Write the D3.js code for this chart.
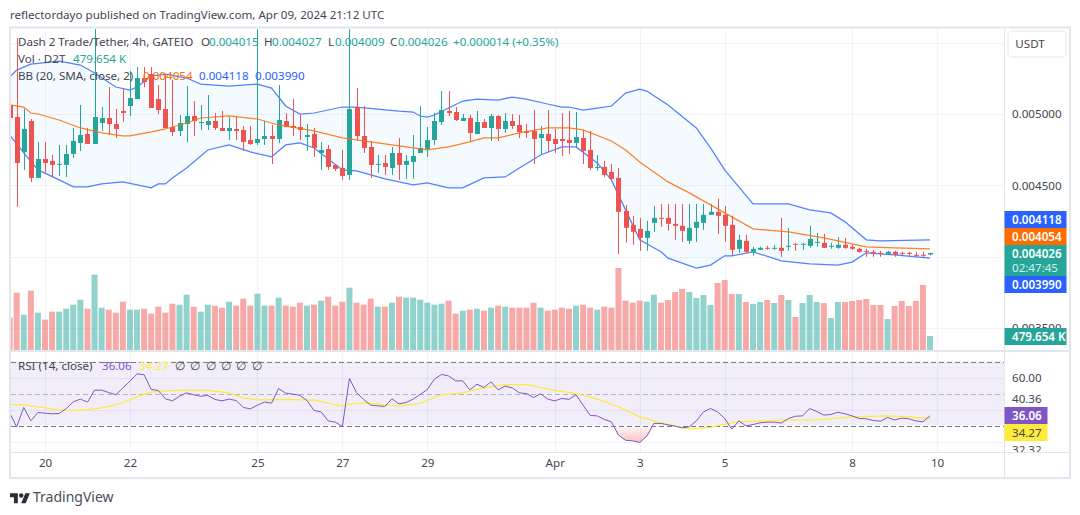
<!DOCTYPE html>
<html><head><meta charset="utf-8">
<script src="https://cdnjs.cloudflare.com/ajax/libs/d3/7.8.5/d3.min.js"></script>
<style>
html,body{margin:0;padding:0;background:#fff;overflow:hidden}
svg{display:block}
text{font-family:"Noto Sans",sans-serif;font-size:11.6px}
</style></head><body>
<svg id="c" width="1080" height="515"></svg>
<script>
// Prices are in millionths of USDT; volume in thousands of D2T. One entry per 4h bar.
const opens=[5063,4979,4734,4951,4552,4685,4671,4643,4643,4720,
4797,4860,4790,4937,4972,4930,5021,5056,5105,5252,
5280,5105,5035,4909,4881,4930,4986,4937,4923,4951,
4902,4881,4895,4888,4818,4797,4825,4846,4825,4951,
4916,4909,4839,4860,4727,4755,4643,4622,4573,5049,
4846,4769,4643,4657,4622,4727,4643,4664,4727,4755,
4818,4944,5021,5014,4951,4972,4860,4944,4902,4986,
4895,4951,4923,4881,4881,4832,4860,4825,4825,4818,
4797,4832,4748,4622,4629,4594,4552,4321,4223,4195,
4132,4237,4272,4272,4230,4216,4111,4202,4237,4293,
4314,4293,4223,4055,4111,4034,4048,4062,4055,4062,
4069,4090,4083,4076,4097,4097,4069,4062,4083,4069,
4055,4041,4034,4027,4020,4034,4027,4027,4013,4013,4015];
const closes=[4972,4657,4895,4552,4685,4657,4643,4650,4720,4811,
4853,4790,4979,4972,4930,4895,5007,5112,5252,5224,
5042,5028,4902,4874,4937,4986,4951,4944,4951,4902,
4881,4902,4881,4804,4790,4825,4846,4825,4958,4909,
4902,4888,4853,4762,4748,4629,4615,4566,5035,4846,
4762,4643,4650,4629,4727,4643,4671,4706,4762,4818,
4951,5028,5007,4958,4972,4867,4944,4902,4986,4895,
4951,4916,4874,4867,4825,4860,4811,4790,4811,4797,
4839,4741,4622,4629,4573,4545,4314,4202,4174,4132,
4181,4272,4265,4230,4216,4181,4202,4244,4293,4314,
4286,4216,4048,4118,4034,4055,4062,4055,4062,4041,
4076,4083,4090,4125,4104,4062,4076,4083,4062,4055,
4034,4034,4020,4020,4034,4013,4020,4020,4006,4006,4026];
const highs=[5063,5532,5035,4965,4804,4804,4713,4783,4783,4902,
5063,4902,5609,5049,5189,5035,5175,5301,5329,5329,
5329,5203,5280,5238,4993,5196,5091,5063,5133,5007,
5021,4979,4986,4916,4916,5609,4951,4923,5203,5007,
5105,4993,4930,4902,4804,4783,4643,4748,5609,5182,
5056,4811,4713,4713,4769,4832,4713,4853,5056,4909,
5007,5161,5161,5049,5000,4993,5021,4965,5000,4993,
5007,5000,4993,4930,5028,4916,5028,4895,5007,5021,
5014,4888,4881,4713,4671,4650,4622,4363,4286,4272,
4251,4356,4370,4370,4370,4370,4370,4370,4370,4370,
4405,4356,4286,4153,4153,4069,4069,4076,4083,4272,
4202,4097,4097,4216,4167,4160,4097,4139,4132,4083,
4062,4055,4048,4041,4041,4041,4034,4034,4034,4034,4027];
const lows=[4972,4349,4608,4524,4552,4587,4559,4566,4559,4692,
4741,4790,4790,4881,4853,4832,4944,4986,5105,5189,
5042,5000,4902,4846,4846,4804,4846,4888,4888,4888,
4881,4818,4818,4741,4783,4783,4783,4650,4797,4909,
4846,4818,4741,4699,4608,4608,4601,4538,4538,4811,
4727,4552,4587,4573,4573,4538,4545,4545,4727,4699,
4783,4923,4986,4951,4951,4804,4860,4902,4811,4811,
4867,4895,4832,4832,4650,4720,4734,4727,4706,4720,
4769,4650,4608,4601,4559,4538,4020,4097,4083,4041,
4041,4174,4209,4181,4118,4104,4090,4104,4188,4293,
4160,4104,4006,4027,4027,4006,4048,4048,4048,3999,
4041,4041,4048,4062,4069,4062,4055,4055,4055,4048,
4027,3999,3999,3999,4013,3999,4006,4006,3999,3999,4009];
const volumes=[1107,1963,1209,2032,1278,1038,1312,1312,1415,1552,
1723,1415,2580,1449,1381,1278,1655,1381,1381,1415,
1244,1483,1278,1586,1552,1895,1483,1312,1552,1518,
1449,1655,1518,1758,1518,1929,1518,1518,1792,1518,
1483,1620,1518,1552,1689,1826,1518,1655,2134,1620,
1552,1758,1483,1483,1620,1826,1792,1792,1723,1620,
1552,1586,1689,1244,1346,1381,1415,1346,1449,1518,
1483,1449,1449,1449,1620,1449,1346,1381,1449,1415,
1518,1552,1449,1381,1483,1449,2809,1689,1620,1689,
1655,1895,1620,1713,1987,2090,1987,1782,1884,1542,
2295,2398,1919,1919,1644,1576,1644,1713,1610,1884,
1713,1131,1610,1884,1644,1610,1096,1644,1644,1679,
1713,1747,1542,1542,1062,1507,1679,1507,1679,2227,480];
const rsi=[37.9,29.2,41.3,32.9,38.1,37.7,37.3,37.5,40.6,44.8,
46.5,44.6,52.1,52.1,50.6,49.2,53.5,57.7,62.3,61.7,
52.5,51.9,46.7,45.4,48.3,50.4,49.2,48.3,48.8,46.3,
45.4,46.5,45.6,41.3,40.4,42.7,44.6,44.0,53.1,50.2,
49.6,48.8,45.6,39.4,38.5,32.9,32.1,29.4,59.4,50.6,
46.3,42.7,42.3,41.9,46.7,43.5,44.4,46.5,49.4,52.5,
59.0,61.9,61.0,57.9,57.9,52.3,55.8,53.8,57.3,52.3,
54.6,53.5,50.4,50.0,47.5,49.8,46.5,45.4,46.9,46.3,
49.2,42.7,36.3,36.0,33.8,32.3,24.0,20.8,20.4,19.4,
23.3,31.3,31.3,30.4,29.6,28.5,29.2,32.9,38.5,40.6,
38.5,34.4,27.7,32.9,29.8,30.6,31.7,32.1,32.1,31.5,
34.4,35.8,36.0,40.6,38.8,36.5,36.9,38.3,37.3,36.0,
34.4,34.2,33.1,32.7,35.0,33.5,34.6,34.2,32.9,32.3,36.06];

const upperBars=[0,1,3,7,10,12,15,17,18,20,22,25,27,31,35,37,39,41,43,47,49,52,55,57,58,59,60,62,64,66,69,71,73,76,78,79,81,83,85,87,89,90,93,97,99,101,105,110,113,116,118,121,123,130];
const upperVals=[5259,5308,5350,5371,5343,5287,5189,5168,5189,5266,5280,5252,5210,5196,5210,5182,5056,5000,5007,5049,5049,5035,5021,5014,4986,4979,4993,5042,5091,5105,5098,5119,5105,5070,5049,5049,5028,5042,5056,5147,5175,5161,5063,4902,4762,4608,4370,4370,4328,4307,4244,4118,4111,4118];
const basisBars=[0,2,3,4,7,10,13,16,17,20,22,25,27,31,35,38,43,47,48,53,56,59,62,65,67,69,72,76,79,81,85,87,89,92,93,96,101,105,110,115,121,125,130];
const basisVals=[5063,5049,5007,5000,4958,4902,4867,4846,4846,4874,4895,4937,4972,4986,4965,4923,4881,4832,4825,4790,4769,4748,4769,4804,4832,4832,4867,4902,4902,4888,4811,4748,4664,4559,4524,4447,4307,4195,4174,4132,4069,4062,4054];
const lowerBars=[0,2,4,7,9,11,13,16,18,20,21,22,23,25,28,31,34,37,39,41,43,47,49,53,57,59,62,64,67,70,72,75,78,80,83,85,87,89,92,93,97,99,101,102,105,109,113,117,119,121,125,130];
const lowerVals=[4853,4727,4608,4538,4489,4489,4510,4524,4503,4482,4510,4510,4552,4622,4748,4783,4734,4699,4783,4797,4762,4608,4601,4545,4503,4517,4482,4482,4552,4559,4622,4713,4769,4769,4657,4538,4328,4118,4034,3990,3920,3941,4006,4006,4034,3971,3950,3941,3962,4027,4013,3990];
const rsiMaBars=[0,2,4,7,10,12,14,16,18,20,22,25,28,31,33,35,39,43,47,48,50,51,55,58,61,64,67,70,73,77,80,83,86,89,92,96,99,101,103,107,109,114,119,124,127,130];
const rsiMaVals=[43.3,42.9,41.7,39.6,39.4,40.4,41.9,44.2,47.9,50.8,51.7,52.1,51.9,50.4,47.3,46.0,46.3,45.8,42.1,43.3,44.2,43.8,42.1,43.8,49.2,50.4,53.5,55.6,55.6,51.9,50.0,46.5,41.7,35.4,31.7,27.9,28.8,30.8,32.3,32.9,33.3,33.5,35.4,36.0,35.4,34.27];
const oversoldBars=[85.2,86,87,88,89,90,90.9];
const oversoldVals=[30,24,20.8,20.4,19.4,23.3,30];

const dateTickBars=[5,17,35,47,59,77,89,101,119,131];
const dateTickLabels=["20","22","25","27","29","Apr","3","5","8","10"];
const priceGrid=[5500,5000,4500,4000,3500];
const priceTicks=[5000,4500,3500];
const rsiLevels=[70,50,30];
const rsiGrid=[60,40,20];
const nullLegend=["∅","∅","∅","∅","∅","∅"];

const GREEN="#26a69a",RED="#ef5350",BLUE="#2962ff",ORANGE="#ff6d00",PURPLE="#7e57c2",YELLOW="#ffeb3b",INK="#434651";
const L=11,R=1004,T=29,B1=350,B2=452,B3=477;
const x=d3.scaleLinear().domain([0,130]).range([9.6,930]);
const y=d3.scaleLinear().domain([3500,5000]).range([328,114]);
const yV=d3.scaleLinear().domain([0,2809]).range([350,268]);
const yR=d3.scaleLinear().domain([30,70]).range([425.5,361.5]);
const svg=d3.select("#c");

// frame
svg.append("rect").attr("x",10).attr("y",27.5).attr("width",1060).attr("height",450.5).attr("fill","none").attr("stroke","#e4e6ed").attr("stroke-width",2);
const defs=svg.append("defs");
defs.append("clipPath").attr("id","main").append("rect").attr("x",L).attr("y",T).attr("width",R-L).attr("height",B1-T);
defs.append("clipPath").attr("id","sub").append("rect").attr("x",L).attr("y",352).attr("width",R-L).attr("height",B2-352);
defs.append("clipPath").attr("id","axr").append("rect").attr("x",R).attr("y",352).attr("width",66).attr("height",B2-352);
const g0=defs.append("linearGradient").attr("id","os").attr("x1",0).attr("x2",0).attr("y1",0).attr("y2",1);
g0.append("stop").attr("offset",0).attr("stop-color","#f23645").attr("stop-opacity",0.02);
g0.append("stop").attr("offset",1).attr("stop-color","#f23645").attr("stop-opacity",0.32);

const main=svg.append("g").attr("clip-path","url(#main)");
const sub=svg.append("g").attr("clip-path","url(#sub)");

// grid
main.append("g").selectAll("line").data(dateTickBars).join("line").attr("x1",d=>Math.round(x(d))+.5).attr("x2",d=>Math.round(x(d))+.5).attr("y1",T).attr("y2",B1).attr("stroke","#f0f3fa");
main.append("g").selectAll("line").data(priceGrid).join("line").attr("x1",L).attr("x2",R).attr("y1",d=>Math.round(y(d))+.5).attr("y2",d=>Math.round(y(d))+.5).attr("stroke","#f0f3fa");

// volume
const bars=d3.range(opens.length);
main.append("g").selectAll("rect").data(bars).join("rect")
 .attr("x",i=>x(i)-3).attr("width",6).attr("y",i=>yV(volumes[i])).attr("height",i=>yV(0)-yV(volumes[i]))
 .attr("fill",i=>closes[i]>=opens[i]?GREEN:RED).attr("fill-opacity",.5);

// Bollinger bands: fill built from upper and lower lines
const uLine=d3.line().x((d,i)=>x(upperBars[i])).y(d=>y(d));
const lLine=d3.line().x((d,i)=>x(lowerBars[i])).y(d=>y(d));
const bLine=d3.line().x((d,i)=>x(basisBars[i])).y(d=>y(d));
const uPath=uLine(upperVals);
const lRev=d3.line().x(d=>x(d[0])).y(d=>y(d[1]))(lowerBars.map((b,i)=>[b,lowerVals[i]]).reverse());
main.append("path").attr("d",uPath+"L"+lRev.slice(1)+"Z").attr("fill","#2196f3").attr("fill-opacity",.05);
main.append("path").attr("d",uPath).attr("fill","none").attr("stroke",BLUE).attr("stroke-opacity",.8).attr("stroke-width",1.25);
main.append("path").attr("d",lLine(lowerVals)).attr("fill","none").attr("stroke",BLUE).attr("stroke-opacity",.8).attr("stroke-width",1.25);

// candles
const cand=main.append("g");
cand.selectAll("line").data(bars).join("line")
 .attr("x1",i=>Math.round(x(i))+.5).attr("x2",i=>Math.round(x(i))+.5)
 .attr("y1",i=>y(highs[i])).attr("y2",i=>y(lows[i]))
 .attr("stroke",i=>closes[i]>=opens[i]?GREEN:RED);
cand.selectAll("rect").data(bars).join("rect")
 .attr("x",i=>Math.round(x(i))-2).attr("width",5)
 .attr("y",i=>y(Math.max(opens[i],closes[i])))
 .attr("height",i=>Math.max(1,Math.abs(y(opens[i])-y(closes[i]))))
 .attr("fill",i=>closes[i]>=opens[i]?GREEN:RED);
main.append("path").attr("d",bLine(basisVals)).attr("fill","none").attr("stroke",ORANGE).attr("stroke-opacity",.85).attr("stroke-width",1.25);

// RSI pane
sub.append("rect").attr("x",L).attr("width",R-L).attr("y",yR(70)).attr("height",yR(30)-yR(70)).attr("fill",PURPLE).attr("fill-opacity",.1);
sub.append("g").selectAll("line").data(dateTickBars).join("line").attr("x1",d=>Math.round(x(d))+.5).attr("x2",d=>Math.round(x(d))+.5).attr("y1",352).attr("y2",B2).attr("stroke","#f0f3fa").style("mix-blend-mode","multiply");
sub.append("g").selectAll("line").data(rsiGrid).join("line").attr("x1",L).attr("x2",R).attr("y1",d=>Math.round(yR(d))+.5).attr("y2",d=>Math.round(yR(d))+.5).attr("stroke","#f0f3fa").style("mix-blend-mode","multiply");
sub.append("g").selectAll("line").data(rsiLevels).join("line").attr("x1",L).attr("x2",R).attr("y1",d=>Math.round(yR(d))+.5).attr("y2",d=>Math.round(yR(d))+.5)
 .attr("stroke","#787b86").attr("stroke-opacity",d=>d===50?.5:1).attr("stroke-dasharray","5 3");
// oversold fill between the RSI line and the 30 level
sub.append("path").attr("d",d3.area().x((v,i)=>x(oversoldBars[i])).y0(yR(30)).y1(v=>yR(v))(oversoldVals)).attr("fill","url(#os)");
sub.append("path").attr("d",d3.line().x((v,i)=>x(rsiMaBars[i])).y(v=>yR(v))(rsiMaVals)).attr("fill","none").attr("stroke",YELLOW).attr("stroke-width",1.25);
sub.append("path").attr("d",d3.line().x((v,i)=>x(i)).y(v=>yR(v))(rsi)).attr("fill","none").attr("stroke",PURPLE).attr("stroke-width",1);

// axis separators
svg.append("line").attr("x1",R+.5).attr("x2",R+.5).attr("y1",T).attr("y2",B3).attr("stroke","#e4e6ed");
svg.append("line").attr("x1",L).attr("x2",1070).attr("y1",351).attr("y2",351).attr("stroke","#e4e6ed").attr("stroke-width",2);
svg.append("line").attr("x1",L).attr("x2",1070).attr("y1",B2+.5).attr("y2",B2+.5).attr("stroke","#e4e6ed");

// axes
const px=d=>(d/1e6).toFixed(6);
const ax=svg.append("g").attr("transform",`translate(${R},0)`).call(d3.axisRight(y).tickValues(priceTicks).tickFormat(px).tickSize(0).tickPadding(8));
ax.select(".domain").remove();
ax.selectAll("text").attr("fill",INK).style("font-size","11.6px");
const tx=svg.append("g").attr("transform",`translate(0,${B2})`).call(d3.axisBottom(x).tickValues(dateTickBars).tickFormat((d,i)=>dateTickLabels[i]).tickSize(0).tickPadding(7));
tx.select(".domain").remove();
tx.selectAll("text").attr("fill",INK).style("font-size","11.6px");

// axis value badges
function badge(yy,h,fill,w,txt,col){
 svg.append("rect").attr("x",R+.5).attr("y",yy).attr("width",w).attr("height",h).attr("fill",fill);
 svg.append("text").attr("x",R+8).attr("y",yy+12.5).attr("fill",col).style("font-weight","600").text(txt);
}
badge(211,17,BLUE,62,px(4118),"#fff");
badge(228,17,ORANGE,62,px(4054),"#fff");
badge(245,31,GREEN,62,px(4026),"#fff");
svg.append("text").attr("x",R+8).attr("y",272).attr("fill","#d4f0ec").text("02:47:45");
badge(276,17,BLUE,62,px(3990),"#fff");
badge(328,17,GREEN,62,"479.654 K","#fff");
const rsiAx=svg.append("g").attr("clip-path","url(#axr)");
rsiAx.append("text").attr("x",R+8).attr("y",381.5).attr("fill",INK).text("60.00");
rsiAx.append("text").attr("x",R+8).attr("y",402.5).attr("fill",INK).text("40.36");
rsiAx.append("text").attr("x",R+8).attr("y",453.5).attr("fill",INK).text("32.32");
svg.append("rect").attr("x",R+.5).attr("y",407).attr("width",43).attr("height",17).attr("fill",PURPLE);
svg.append("text").attr("x",R+8).attr("y",420).attr("fill","#fff").style("font-weight","600").text("36.06");
svg.append("rect").attr("x",R+.5).attr("y",424).attr("width",43).attr("height",17).attr("fill",YELLOW);
svg.append("text").attr("x",R+8).attr("y",437).attr("fill",INK).text("34.27");

// USDT button
svg.append("rect").attr("x",1008).attr("y",31).attr("width",58).attr("height",26).attr("rx",4).attr("fill","#fff").attr("stroke","#eceef3").attr("stroke-width",1.5);
svg.append("text").attr("x",1030).attr("y",48).attr("text-anchor","middle").attr("fill",INK).style("font-size","11.6px").text("USDT");

// legends
const T1=(xx,yy,s,c)=>svg.append("text").attr("x",xx).attr("y",yy).attr("fill",c||INK).text(s);
T1(10,18.5,"reflectordayo published on TradingView.com, Apr 09, 2024 21:12 UTC","#434651");
T1(18,46,"Dash 2 Trade/Tether, 4h, GATEIO");
T1(201,46,"O");T1(209,46,px(4015),GREEN);
T1(264,46,"H");T1(272,46,px(4027),GREEN);
T1(328,46,"L");T1(335,46,px(4009),GREEN);
T1(390,46,"C");T1(398,46,px(4026),GREEN);
T1(453,46,"+0.000014 (+0.35%)",GREEN);
T1(18,63,"Vol · D2T");T1(73,63,"479.654 K",GREEN);
T1(18,80,"BB (20, SMA, close, 2)");
T1(143,80,px(4054),ORANGE);T1(199,80,px(4118),BLUE);T1(255,80,px(3990),BLUE);
T1(18,370,"RSI (14, close)");T1(102,370,"36.06",PURPLE);T1(139,370,"34.27",YELLOW);
svg.append("g").selectAll("text").data(nullLegend).join("text").attr("x",(d,i)=>175+i*15.3).attr("y",370).attr("fill",INK).text(d=>d);

// logo
const logo=svg.append("g").attr("transform","translate(10,491) scale(.56)").attr("fill","#2a2e39");
logo.append("path").attr("d","M14 22H7V11H0V4h14v18zM28 22h-8l7.5-18h8L28 22z");
logo.append("circle").attr("cx",20).attr("cy",8).attr("r",4);
svg.append("text").attr("x",33).attr("y",502).attr("fill","#4a4e5a").style("font-size","14px").text("TradingView");
</script>
</body></html>
